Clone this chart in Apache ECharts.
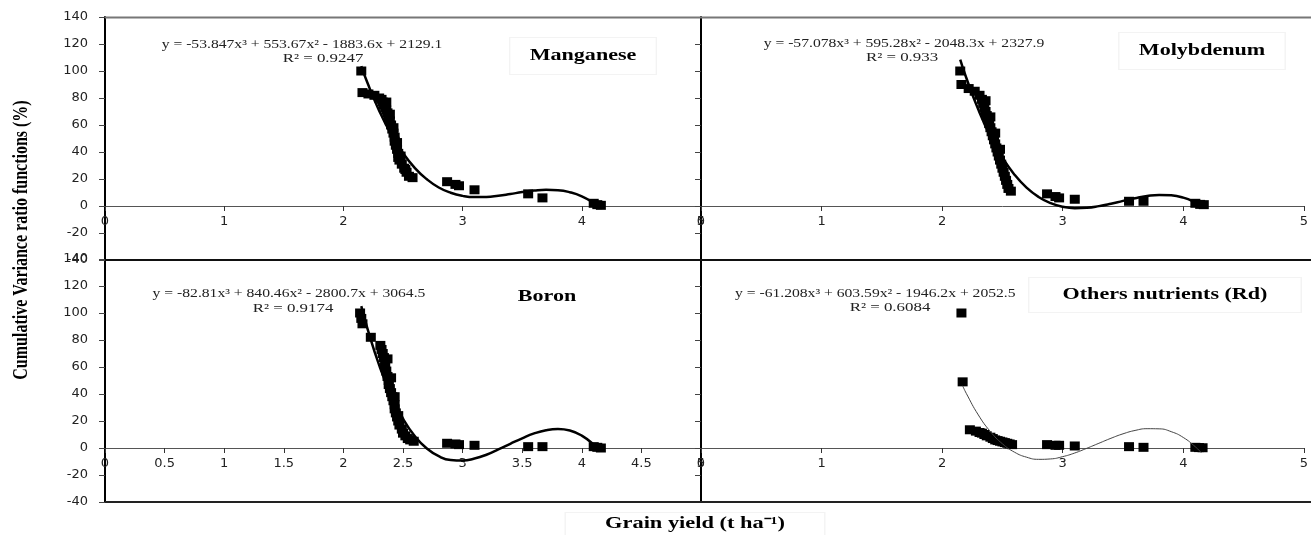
<!DOCTYPE html>
<html><head><meta charset="utf-8">
<script src="https://cdn.jsdelivr.net/npm/echarts@6/dist/echarts.min.js"></script>
<style>html,body{margin:0;padding:0;background:#fff}#c{width:1311px;height:535px}</style>
</head><body><div id="c"></div><script>
// ---- data ----
const mnX = [2.15,2.16,2.21,2.26,2.30,2.32,2.33,2.34,2.35,2.36,2.37,2.38,2.39,2.40,2.41,2.42,2.43,2.43,2.44,2.45,2.46,2.46,2.47,2.49,2.51,2.53,2.55,2.58,2.36,2.39,2.42,2.45,2.48,2.52,2.87,2.94,2.97,3.10,3.55,3.67,4.10,4.13,4.16];
const mnY = [100,84,83,82,80,79,77,75,73,71,69,66,63,60,57,54,51,48,45,42,39,36,34,31,28,25,22,21,77,68,58,47,37,27,18,16,15,12,9,6,2,1,0.5];
const moX = [2.15,2.16,2.22,2.27,2.31,2.33,2.34,2.35,2.36,2.37,2.38,2.39,2.40,2.41,2.42,2.43,2.44,2.45,2.46,2.47,2.48,2.49,2.50,2.51,2.52,2.53,2.54,2.55,2.57,2.36,2.40,2.44,2.48,2.87,2.94,2.97,3.10,3.55,3.67,4.10,4.14,4.17];
const moY = [100,90,87,85,82,79,76,73,70,67,64,61,58,55,52,49,46,43,40,37,34,31,28,25,22,19,16,13,11,78,66,54,42,9,7,6,5,3.5,3.5,2,1.2,1];
const bX = [2.14,2.15,2.16,2.23,2.31,2.32,2.33,2.34,2.35,2.35,2.36,2.37,2.38,2.38,2.39,2.40,2.41,2.42,2.43,2.43,2.44,2.45,2.46,2.47,2.49,2.50,2.52,2.54,2.56,2.59,2.37,2.40,2.43,2.46,2.87,2.94,2.97,3.10,3.55,3.67,4.10,4.13,4.16];
const bY = [100,96,92,82,76,73,70,67,63,60,57,53,50,47,44,41,38,35,32,29,26,23,20,17,14,11,9,7,6,5,66,52,38,24,3.5,3,2.5,2,1,1,1,0.5,0];
const rdX = [2.16,2.17,2.23,2.28,2.31,2.33,2.35,2.37,2.40,2.42,2.44,2.46,2.48,2.50,2.52,2.54,2.56,2.58,2.87,2.94,2.97,3.10,3.55,3.67,4.10,4.13,4.16];
const rdY = [100,49,13.5,12.5,11.5,11,10,9,8,7,6,5.5,5,4.5,4,3.5,3,2.5,2.5,2,2,1.5,1,0.5,0.5,0.3,0.2];

// trend curves
const fitX   = [2.15,2.2,2.3,2.4,2.5,2.6,2.7,2.8,2.9,3.0,3.1,3.2,3.3,3.4,3.5,3.6,3.7,3.8,3.9,4.0,4.1,4.15];
const mnFit  = [103.6,91.6,70.6,53.2,39.2,28.1,19.8,13.7,9.8,7.5,6.6,6.7,7.6,8.9,10.3,11.4,12.0,11.7,10.2,7.2,2.3,-0.9];
const moFit  = [108.5,95.0,71.4,51.7,35.8,23.2,13.6,6.7,2.1,-0.6,-1.6,-1.3,-0.1,1.7,3.8,5.8,7.4,8.2,7.9,6.2,2.7,0.1];
const bFit   = [105.1,89.0,61.4,39.1,21.7,8.7,-0.4,-6.1,-8.9,-9.3,-7.8,-5.0,-1.1,3.1,7.2,10.8,13.2,14.1,13.0,9.2,2.4,-2.3];
const rdFitX = [2.17,2.2,2.3,2.4,2.5,2.6,2.7,2.8,2.9,3.0,3.1,3.2,3.3,3.4,3.5,3.6,3.7,3.8,3.9,4.0,4.1,4.15];
const rdFit  = [46.1,40.5,24.5,12.2,3.1,-3.1,-6.8,-8.4,-8.1,-6.4,-3.7,-0.2,3.5,7.2,10.5,13.0,14.3,14.2,12.1,7.8,0.9,-3.6];

const yMin = -40, yMax = 140, yStep = 20;
const xMin = 0, xMax = 5;
const xSteps = [1, 1, 0.5, 1];

const names = ['Manganese', 'Molybdenum', 'Boron', 'Others nutrients (Rd)'];
const eqs = [
  'y = -53.847x³ + 553.67x² - 1883.6x + 2129.1',
  'y = -57.078x³ + 595.28x² - 2048.3x + 2327.9',
  'y = -82.81x³ + 840.46x² - 2800.7x + 3064.5',
  'y = -61.208x³ + 603.59x² - 1946.2x + 2052.5'
];
const r2s = ['R² = 0.9247', 'R² = 0.933', 'R² = 0.9174', 'R² = 0.6084'];
const yTitle = 'Cumulative Variance ratio functions (%)';
const xTitle = 'Grain yield (t ha⁻¹)';

// ---- build ----
const zip = (xs, ys) => xs.map((x, i) => [x, ys[i]]);
const pts = [zip(mnX, mnY), zip(moX, moY), zip(bX, bY), zip(rdX, rdY)];
const fits = [zip(fitX, mnFit), zip(fitX, moFit), zip(fitX, bFit), zip(rdFitX, rdFit)];

const grids = [
  {left: 105, top: 17, width: 596, height: 243},
  {left: 701, top: 17, width: 607, height: 243},
  {left: 105, top: 259, width: 596, height: 243},
  {left: 701, top: 259, width: 607, height: 243}
];
const plotH = 243;
const zeroShift = -plotH * (0 - yMin) / (yMax - yMin); // move x axis up to y = 0
const tickFont = {fontFamily: 'DejaVu Sans', fontSize: 13, color: '#222'};

const xAxis = grids.map((g, i) => ({
  gridIndex: i, type: 'value', min: xMin, max: xMax, interval: xSteps[i],
  position: 'bottom', offset: zeroShift,
  axisLine: {onZero: false, lineStyle: {color: '#555', width: 1}},
  axisTick: {show: true, length: 5, lineStyle: {color: '#333'}},
  axisLabel: Object.assign({margin: 9}, tickFont),
  splitLine: {show: false}
}));
const yAxis = grids.map((g, i) => ({
  gridIndex: i, type: 'value', min: yMin, max: yMax, interval: yStep,
  axisLine: {show: true, onZero: false, lineStyle: {color: '#000', width: 2}},
  axisTick: {show: true, length: 6, lineStyle: {color: '#444'}},
  axisLabel: Object.assign({show: i % 2 === 0, margin: 17}, tickFont),
  splitLine: {show: false}
}));

const series = [];
for (let i = 0; i < 4; i++) {
  series.push({
    type: 'scatter', xAxisIndex: i, yAxisIndex: i, data: pts[i],
    symbol: 'rect', symbolSize: [10, 9], itemStyle: {color: '#000', opacity: 1}, z: 3
  });
  series.push({
    type: 'line', xAxisIndex: i, yAxisIndex: i, data: fits[i], smooth: true,
    showSymbol: false, symbol: 'none',
    lineStyle: {color: i === 3 ? '#444' : '#000', width: i === 3 ? 1 : 2.5}, z: 4
  });
}

const eqFont = '12.5px "Liberation Serif"';
const nameFont = 'bold 16px "Liberation Serif"';
function txt(text, x, y, font, sx, align, extra) {
  return {type: 'text', x: x, y: y, scaleX: sx, z: 100,
    style: Object.assign({text: text, font: font, fill: '#222', textAlign: align || 'center', textVerticalAlign: 'middle'}, extra || {})};
}
function hline(x1, x2, y, color, w) {
  return {type: 'line', z: 90, shape: {x1: x1, y1: y, x2: x2, y2: y}, style: {stroke: color, lineWidth: w}};
}
const faintBox = {fill: '#000', backgroundColor: '#fff', borderColor: '#f3f3f3', borderWidth: 1};
const graphic = [
  hline(105, 1311, 17.5, '#777', 2),
  hline(105, 1311, 260, '#111', 2),
  hline(105, 1311, 502, '#222', 2),
  txt(eqs[0], 302, 45, eqFont, 1.25),
  txt(r2s[0], 323, 59, eqFont, 1.35),
  txt(eqs[1], 904, 44, eqFont, 1.25),
  txt(r2s[1], 902, 58, eqFont, 1.35),
  txt(eqs[2], 289, 294, eqFont, 1.25),
  txt(r2s[2], 293, 309, eqFont, 1.35),
  txt(eqs[3], 735, 294, eqFont, 1.25, 'left'),
  txt(r2s[3], 890, 308, eqFont, 1.35),
  txt(names[0], 583, 56, nameFont, 1.38, 'center', Object.assign({padding: [10, 14]}, faintBox)),
  txt(names[1], 1202, 51, nameFont, 1.38, 'center', Object.assign({padding: [10, 14]}, faintBox)),
  txt(names[2], 547, 297, nameFont, 1.38, 'center', {fill: '#000'}),
  txt(names[3], 1165, 295, nameFont, 1.38, 'center', Object.assign({padding: [9, 24]}, faintBox)),
  {type: 'text', x: 22, y: 240, rotation: Math.PI / 2, scaleY: 1.3, z: 100,
    style: {text: yTitle, font: 'bold 16px "Liberation Serif"', fill: '#000', textAlign: 'center', textVerticalAlign: 'middle'}},
  txt(xTitle, 695, 524, 'bold 16px "Liberation Serif"', 1.4, 'center', Object.assign({padding: [3, 28]}, faintBox))
];

const chart = echarts.init(document.getElementById('c'), null, {renderer: 'canvas'});
chart.setOption({
  animation: false,
  backgroundColor: '#fff',
  grid: grids,
  xAxis: xAxis,
  yAxis: yAxis,
  series: series,
  graphic: graphic
});
</script></body></html>
